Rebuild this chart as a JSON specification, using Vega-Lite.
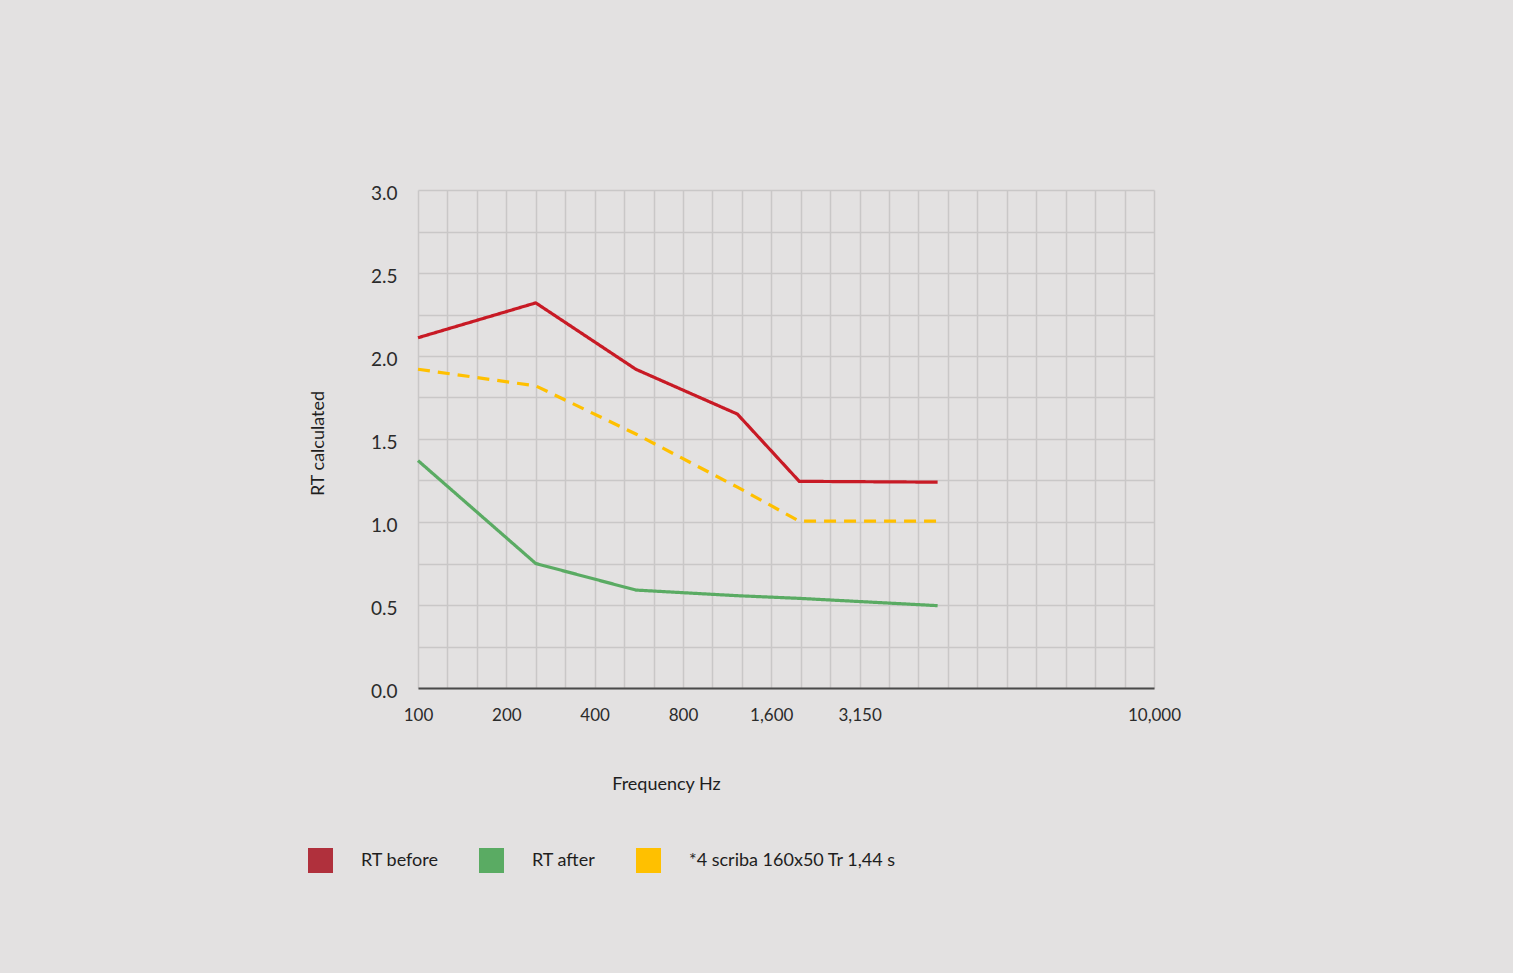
{
  "$schema": "https://vega.github.io/schema/vega-lite/v6.json",
  "description": "Calculated reverberation time before and after treatment, by frequency band.",
  "autosize": {"type": "none"},
  "padding": {"left": 418, "top": 190, "right": 359, "bottom": 285},
  "width": 736,
  "height": 498,
  "background": "#e3e1e1",
  "config": {
    "view": {"stroke": null},
    "font": "Lato",
    "axis": {"labelFont": "Lato", "titleFont": "Lato", "labelColor": "#2b2b2b", "titleColor": "#1e1e1e"}
  },
  "data": {
    "values": [
      {"series": "RT before", "band": 0, "rt": 2.11},
      {"series": "RT before", "band": 4, "rt": 2.32},
      {"series": "RT before", "band": 7.4, "rt": 1.92},
      {"series": "RT before", "band": 10.85, "rt": 1.65},
      {"series": "RT before", "band": 12.95, "rt": 1.245},
      {"series": "RT before", "band": 17.65, "rt": 1.24},
      {"series": "RT after", "band": 0, "rt": 1.37},
      {"series": "RT after", "band": 4, "rt": 0.75},
      {"series": "RT after", "band": 7.4, "rt": 0.59},
      {"series": "RT after", "band": 10.85, "rt": 0.556},
      {"series": "RT after", "band": 12.95, "rt": 0.54},
      {"series": "RT after", "band": 17.65, "rt": 0.496},
      {"series": "*4 scriba 160x50 Tr 1,44 s", "band": 0, "rt": 1.92},
      {"series": "*4 scriba 160x50 Tr 1,44 s", "band": 4, "rt": 1.82},
      {"series": "*4 scriba 160x50 Tr 1,44 s", "band": 7.4, "rt": 1.53},
      {"series": "*4 scriba 160x50 Tr 1,44 s", "band": 10.85, "rt": 1.21},
      {"series": "*4 scriba 160x50 Tr 1,44 s", "band": 12.95, "rt": 1.005},
      {"series": "*4 scriba 160x50 Tr 1,44 s", "band": 17.65, "rt": 1.005}
    ]
  },
  "mark": {"type": "line", "strokeWidth": 3.2, "strokeJoin": "miter"},
  "encoding": {
    "x": {
      "field": "band",
      "type": "quantitative",
      "scale": {"domain": [0, 25], "nice": false, "zero": false},
      "axis": {
        "values": [0,1,2,3,4,5,6,7,8,9,10,11,12,13,14,15,16,17,18,19,20,21,22,23,24,25],
        "labelExpr": "datum.value == 0 ? '100' : datum.value == 3 ? '200' : datum.value == 6 ? '400' : datum.value == 9 ? '800' : datum.value == 12 ? '1,600' : datum.value == 15 ? '3,150' : datum.value == 25 ? '10,000' : ''",
        "grid": true,
        "gridColor": "#c9c7c7",
        "gridWidth": 1.5,
        "gridOpacity": 1,
        "ticks": false,
        "tickSize": 0,
        "domain": true,
        "domainColor": "#4a4a4a",
        "domainWidth": 2,
        "labelFontSize": 17,
        "labelPadding": 19,
        "labelFlush": false,
        "labelOverlap": false,
        "title": "Frequency Hz",
        "titleFontSize": 18,
        "titleFontWeight": "normal",
        "titleX": 248,
        "titleY": 96,
        "titleBaseline": "middle",
        "titleAnchor": null
      }
    },
    "y": {
      "field": "rt",
      "type": "quantitative",
      "scale": {"domain": [0, 3], "nice": false},
      "axis": {
        "values": [0, 0.25, 0.5, 0.75, 1, 1.25, 1.5, 1.75, 2, 2.25, 2.5, 2.75, 3],
        "labelExpr": "datum.value % 0.5 == 0 ? format(datum.value, '.1f') : ''",
        "grid": true,
        "gridColor": "#c9c7c7",
        "gridWidth": 1.5,
        "gridOpacity": 1,
        "ticks": false,
        "tickSize": 0,
        "domain": false,
        "labelFontSize": 19,
        "labelPadding": 21,
        "labelOffset": 3,
        "labelFlush": false,
        "labelOverlap": false,
        "title": "RT calculated",
        "titleFontSize": 18,
        "titleFontWeight": "normal",
        "titleX": -100,
        "titleY": 253,
        "titleAngle": 270,
        "titleAlign": "center",
        "titleBaseline": "middle"
      }
    },
    "color": {
      "field": "series",
      "type": "nominal",
      "sort": null,
      "scale": {
        "domain": ["RT before", "RT after", "*4 scriba 160x50 Tr 1,44 s"],
        "range": ["#c81a25", "#5aab63", "#ffc000"]
      },
      "legend": {
        "orient": "none",
        "legendX": -110,
        "legendY": 658,
        "direction": "horizontal",
        "title": null,
        "symbolType": "square",
        "symbolSize": 625,
        "symbolStrokeWidth": 0,
        "labelFontSize": 18,
        "labelColor": "#1e1e1e",
        "labelOffset": 28,
        "columnPadding": 40,
        "labelLimit": 400,
        "encode": {
          "symbols": {
            "update": {
              "fill": {"signal": "datum.value === 'RT before' ? '#b0303c' : datum.value === 'RT after' ? '#5aab63' : '#ffc000'"},
              "strokeWidth": {"value": 0},
              "opacity": {"value": 1}
            }
          }
        }
      }
    },
    "strokeDash": {
      "field": "series",
      "type": "nominal",
      "scale": {
        "domain": ["RT before", "RT after", "*4 scriba 160x50 Tr 1,44 s"],
        "range": [[1, 0], [1, 0], [12, 8]]
      },
      "legend": null
    }
  }
}
